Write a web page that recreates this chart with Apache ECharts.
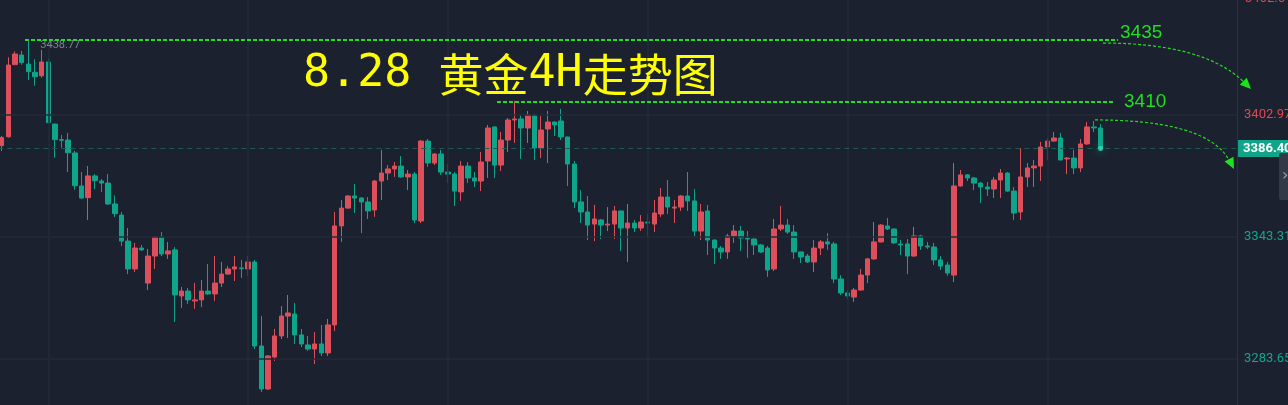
<!DOCTYPE html>
<html><head><meta charset="utf-8">
<script src="https://cdn.jsdelivr.net/npm/echarts@6/dist/echarts.min.js"></script>
<style>html,body{margin:0;padding:0;background:#1b212f;overflow:hidden}#c{width:1288px;height:405px}</style>
</head><body><div id="c"></div>
<script>
// ---- data (4H gold candles) ----
const open = [3387.8,3392.1,3427.3,3432.0,3427.6,3423.6,3421.9,3428.6,3398.3,3390.7,
3390.5,3384.2,3368.1,3362.4,3373.0,3370.5,3369.5,3359.3,3353.9,3341.2,
3327.6,3337.8,3320.7,3333.9,3343.2,3334.9,3336.9,3314.4,3316.8,3312.0,
3312.5,3316.8,3315.4,3320.7,3325.1,3327.6,3328.1,3327.6,3331.0,3290.0,
3269.0,3284.6,3294.9,3304.6,3305.6,3295.4,3290.5,3288.5,3291.0,3286.6,
3300.3,3348.6,3357.3,3363.2,3362.2,3360.3,3356.4,3370.5,3374.4,3376.4,
3377.8,3372.5,3373.9,3351.0,3390.0,3379.3,3383.7,3374.9,3373.9,3365.2,
3377.8,3372.0,3370.5,3380.3,3396.9,3378.3,3390.5,3400.3,3400.8,3396.4,
3402.7,3386.6,3395.9,3399.3,3399.8,3392.0,3378.8,3360.3,3355.4,3349.5,
3351.5,3349.0,3349.5,3355.9,3347.6,3350.0,3347.6,3350.5,3349.5,3354.4,
3362.7,3357.3,3357.8,3363.2,3360.8,3346.1,3355.9,3341.7,3337.8,3335.9,
3343.7,3346.1,3342.7,3342.2,3339.3,3337.8,3327.6,3347.1,3349.0,3345.6,
3335.9,3333.9,3331.0,3337.8,3340.8,3339.8,3322.7,3315.9,3313.9,3317.3,
3324.6,3332.5,3340.8,3348.6,3347.1,3339.8,3339.8,3333.9,3343.7,3338.8,
3338.3,3332.0,3329.5,3324.6,3368.1,3373.5,3372.0,3369.5,3367.6,3366.6,
3371.0,3374.4,3365.6,3355.4,3372.5,3376.9,3377.8,3387.1,3390.0,3391.5,
3381.3,3381.7,3376.9,3388.6,3396.9,3396.4];
const close = [3391.7,3427.1,3432.5,3428.3,3423.9,3421.4,3428.6,3399.0,3390.7,3390.4,
3384.3,3368.2,3362.2,3373.0,3370.7,3369.5,3359.3,3354.6,3341.2,3327.6,
3337.8,3336.9,3333.9,3343.2,3334.9,3336.4,3314.9,3316.8,3312.5,3312.5,
3316.8,3315.4,3320.7,3325.1,3327.6,3328.6,3327.7,3331.0,3290.0,3269.0,
3285.1,3294.9,3304.6,3306.1,3295.4,3291.0,3288.5,3291.0,3286.6,3300.3,
3348.6,3357.3,3363.2,3362.2,3360.3,3355.9,3370.5,3374.4,3376.4,3377.8,
3372.5,3373.9,3351.5,3390.0,3379.3,3383.7,3374.9,3373.9,3365.6,3377.8,
3372.0,3370.5,3379.8,3396.4,3378.3,3390.5,3400.3,3400.8,3396.4,3402.7,
3386.6,3395.4,3399.3,3397.9,3392.0,3378.8,3360.3,3355.4,3349.0,3352.0,
3349.0,3349.5,3355.9,3347.6,3350.0,3347.6,3350.5,3350.0,3354.9,3362.7,
3357.8,3357.8,3363.2,3360.8,3346.1,3355.4,3341.7,3337.8,3335.9,3343.7,
3346.1,3342.7,3342.2,3339.3,3335.9,3327.1,3347.1,3349.0,3345.6,3335.9,
3333.4,3331.0,3337.8,3340.8,3339.8,3322.7,3315.9,3314.4,3317.3,3324.6,
3332.5,3340.8,3349.0,3347.1,3340.3,3339.3,3333.9,3343.7,3338.8,3338.3,
3332.0,3329.0,3325.6,3368.1,3373.5,3372.0,3369.5,3367.6,3366.6,3371.0,
3374.4,3365.6,3354.9,3372.5,3376.9,3377.8,3387.1,3390.0,3391.5,3380.8,
3381.7,3376.9,3388.6,3396.9,3396.4,3386.4];
const low = [3385.2,3391.7,3427.3,3427.3,3419.8,3417.0,3420.9,3398.5,3381.9,3386.8,
3374.9,3366.3,3361.7,3351.5,3366.6,3365.2,3358.8,3353.0,3338.8,3325.1,
3326.1,3336.4,3317.3,3327.6,3333.9,3332.5,3301.7,3308.6,3310.5,3308.1,
3309.0,3314.9,3312.0,3318.8,3324.6,3321.7,3323.2,3324.2,3288.5,3267.6,
3268.5,3282.7,3293.4,3293.9,3291.0,3289.5,3287.6,3281.2,3285.1,3285.1,
3297.3,3340.8,3357.0,3354.9,3345.1,3352.0,3353.0,3361.3,3371.0,3372.5,
3372.0,3366.1,3350.0,3350.0,3377.4,3378.3,3373.5,3369.5,3358.3,3360.8,
3369.5,3367.6,3365.6,3372.0,3372.0,3375.4,3384.7,3389.1,3381.3,3389.1,
3380.8,3381.7,3379.3,3392.5,3390.5,3368.1,3357.3,3350.0,3341.7,3341.2,
3342.2,3346.1,3342.2,3336.4,3331.0,3345.6,3346.1,3342.7,3345.6,3353.0,
3354.4,3350.0,3355.9,3355.9,3343.7,3341.7,3334.4,3330.0,3332.5,3332.5,
3340.3,3336.4,3333.0,3334.4,3335.4,3323.7,3326.6,3346.1,3344.7,3332.5,
3330.5,3330.5,3326.1,3334.4,3336.9,3320.7,3314.9,3312.9,3311.5,3317.0,
3320.7,3332.0,3340.5,3346.6,3339.8,3334.4,3325.1,3333.5,3336.9,3337.3,
3329.5,3327.1,3324.2,3321.2,3367.8,3370.5,3366.1,3359.8,3363.2,3362.2,
3362.2,3365.2,3351.5,3351.5,3367.6,3367.6,3370.5,3380.8,3389.8,3380.5,
3373.9,3373.9,3374.9,3388.1,3394.4,3385.7];
const high = [3392.5,3430.9,3433.8,3434.0,3438.77,3429.9,3434.5,3430.4,3398.5,3393.0,
3394.0,3385.3,3374.9,3377.8,3373.9,3371.5,3373.9,3363.5,3355.4,3347.6,
3340.3,3339.3,3337.3,3343.4,3345.6,3340.8,3338.3,3318.8,3318.3,3320.8,
3322.2,3330.0,3333.9,3331.0,3329.0,3333.9,3332.0,3333.9,3332.0,3304.6,
3285.6,3298.3,3309.5,3314.9,3311.0,3298.3,3294.9,3296.8,3300.3,3303.2,
3355.4,3361.3,3363.7,3369.1,3362.7,3362.7,3371.0,3385.7,3378.3,3379.8,
3382.7,3375.9,3374.9,3390.5,3391.0,3384.2,3385.7,3378.8,3374.9,3380.3,
3379.8,3374.9,3384.7,3397.9,3397.2,3394.4,3401.3,3409.6,3402.7,3404.7,
3403.2,3402.2,3404.7,3399.5,3405.7,3392.2,3380.3,3366.1,3363.2,3358.8,
3352.0,3357.8,3358.3,3356.1,3359.3,3351.5,3353.9,3354.4,3361.3,3367.1,
3371.0,3361.3,3363.7,3374.9,3366.6,3359.3,3358.8,3342.0,3338.8,3344.7,
3349.0,3348.6,3346.1,3342.5,3339.8,3338.8,3352.0,3358.3,3352.0,3349.0,
3336.0,3334.9,3341.7,3341.7,3345.1,3340.8,3324.6,3317.3,3318.3,3327.6,
3333.0,3350.5,3349.5,3352.5,3347.3,3341.7,3342.2,3348.1,3344.2,3340.8,
3340.3,3333.9,3331.0,3379.3,3375.9,3373.9,3372.5,3370.0,3370.0,3372.5,
3376.4,3374.9,3367.6,3386.6,3379.3,3380.8,3389.6,3391.5,3394.4,3394.0,
3382.2,3385.7,3391.0,3399.3,3399.8,3398.3];
const slotCount = 186;                       // candle slots incl. empty right margin
const categories = Array.from({length: slotCount}, (_, i) => 'K' + i);
const yTicks = [3283.65, 3343.31, 3402.97];
const topTick = 3462.64;
const lastPrice = 3386.40;
const highMark = {index: 4, value: 3438.77};
const levels = [3439.3, 3409.1];
const levelTexts = ['3435', '3410'];
const dayLines = [7, 37, 67, 97, 127, 157];

const RED = '#dd4f5a', TEAL = '#0ea58a';
const candles = open.map((o, i) => [o, close[i], low[i], high[i]]);

const chart = echarts.init(document.getElementById('c'), null, {renderer: 'canvas'});
chart.setOption({
  backgroundColor: '#1b212f',
  animation: false,
  title: {
    text: '{a|8.28 }{b|黄金}{a|4H}{b|走势图}',
    left: 303, top: 52, padding: 0,
    textStyle: {
      fontWeight: 'normal',
      rich: {
        a: {color: '#ffff00', fontSize: 45, fontWeight: 'normal', fontFamily: 'DejaVu Sans Mono'},
        b: {color: '#ffff00', fontSize: 45, fontWeight: 'normal', fontFamily: 'Noto Sans CJK SC'}
      }
    }
  },
  grid: {left: -1.7, top: 0, width: 1238.76, height: 405, containLabel: false, outerBoundsMode: 'none'},
  xAxis: {
    type: 'category', data: categories, boundaryGap: true,
    axisLine: {show: false}, axisTick: {show: false}, axisLabel: {show: false}, splitLine: {show: false}
  },
  yAxis: {
    type: 'value', position: 'right', min: 3261.2, max: 3458.85,
    axisLine: {show: true, lineStyle: {color: '#2a3242'}},
    axisTick: {show: false}, splitLine: {show: false},
    axisLabel: {
      customValues: yTicks, margin: 7, fontFamily: 'Roboto', fontSize: 13,
      formatter: v => (v > lastPrice ? '{r|' : '{g|') + v.toFixed(2) + '}',
      rich: {r: {color: '#e0474f', fontSize: 13, fontFamily: 'Roboto'}, g: {color: '#13a689', fontSize: 13, fontFamily: 'Roboto'}}
    }
  },
  series: [
    {
      type: 'line', data: [], z: 1, silent: true,
      markLine: {
        silent: true, symbol: 'none', label: {show: false},
        lineStyle: {color: '#232a38', width: 1.5, type: 'solid'},
        data: [...yTicks.map(v => ({yAxis: v})), ...dayLines.map(i => ({xAxis: categories[i]}))]
      }
    },
    {
      type: 'candlestick', data: candles, z: 2, barWidth: 5,
      itemStyle: {color: RED, color0: TEAL, borderColor: RED, borderColor0: TEAL, borderWidth: 1},
      markLine: {
        silent: true, symbol: 'none',
        data: [{yAxis: lastPrice}],
        lineStyle: {color: '#1f5752', type: [5, 4], width: 1},
        label: {
          show: true, position: 'end', distance: 1,
          formatter: () => lastPrice.toFixed(2),
          backgroundColor: '#10a589', color: '#ffffff', fontFamily: 'Roboto',
          fontSize: 13, fontWeight: 'bold', padding: [2, 8, 2, 5]
        }
      }
    }
  ]
});

// ---- annotations anchored through the chart's scales ----
const px = (i, v) => chart.convertToPixel({gridIndex: 0}, [i, v]);
const hp = px(highMark.index, highMark.value);
const ly1 = px(0, levels[0])[1];
const ly2 = px(0, levels[1])[1];
const lp = px(open.length - 1, lastPrice);
const topY = px(0, topTick)[1];
const GREEN = '#1ee01e';

function arrowHead(tip, dx, dy) {
  const len = Math.hypot(dx, dy), ux = dx / len, uy = dy / len;
  const bx = tip[0] - 11 * ux, by = tip[1] - 11 * uy;
  return [[tip[0], tip[1]], [bx - 5 * uy, by + 5 * ux], [bx + 5 * uy, by - 5 * ux]];
}

chart.setOption({
  graphic: [
    {type: 'text', z: 50, style: {text: highMark.value.toFixed(2), x: hp[0] + 12, y: hp[1] + 4, verticalAlign: 'middle',
      fill: '#7f8591', fontSize: 11, fontFamily: 'Roboto'}},
    {type: 'line', z: 50, shape: {x1: 25, y1: ly1, x2: 1118, y2: ly1}, style: {stroke: GREEN, lineWidth: 2, lineDash: [4, 2]}},
    {type: 'line', z: 50, shape: {x1: 497, y1: ly2, x2: 1113, y2: ly2}, style: {stroke: GREEN, lineWidth: 2, lineDash: [4, 2]}},
    {type: 'text', z: 50, style: {text: levelTexts[0], x: 1120, y: ly1 - 7, verticalAlign: 'middle', fill: GREEN, fontSize: 19, fontFamily: 'Liberation Sans'}},
    {type: 'text', z: 50, style: {text: levelTexts[1], x: 1124, y: ly2, verticalAlign: 'middle', fill: GREEN, fontSize: 19, fontFamily: 'Liberation Sans'}},
    {type: 'bezierCurve', z: 50, shape: {x1: 1103, y1: ly1 + 3, cpx1: 1165, cpy1: ly1 + 3, cpx2: 1215, cpy2: ly1 + 14, x2: 1244, y2: ly1 + 42},
      style: {stroke: GREEN, lineWidth: 1.2, lineDash: [3, 2], fill: null}},
    {type: 'polygon', z: 50, shape: {points: arrowHead([1251, ly1 + 49], 1, 1)}, style: {fill: GREEN}},
    {type: 'bezierCurve', z: 50, shape: {x1: 1095, y1: ly2 + 18, cpx1: 1160, cpy1: ly2 + 18, cpx2: 1212, cpy2: ly2 + 28, x2: 1229, y2: ly2 + 58},
      style: {stroke: GREEN, lineWidth: 1.2, lineDash: [3, 2], fill: null}},
    {type: 'polygon', z: 50, shape: {points: arrowHead([1234, ly2 + 67], 0.45, 0.89)}, style: {fill: GREEN}},
    {type: 'text', z: 50, style: {text: topTick.toFixed(2), x: 1245, y: topY + 7, verticalAlign: 'middle', fill: '#e0474f', fontSize: 13, fontFamily: 'Roboto'}},
    {type: 'circle', z: 40, shape: {cx: lp[0], cy: lp[1], r: 2.5}, style: {fill: '#38e0bb', shadowBlur: 10, shadowColor: '#1ec9a5', opacity: 0.8}},
    {type: 'rect', z: 50, shape: {x: 1279, y: 153, width: 14, height: 47, r: 2}, style: {fill: '#323947'}},
    {type: 'text', z: 51, style: {text: '›', x: 1282, y: 176, verticalAlign: 'middle', fill: '#9aa0ab', fontSize: 16, fontFamily: 'DejaVu Sans'}}
  ]
});
</script>
</body></html>
